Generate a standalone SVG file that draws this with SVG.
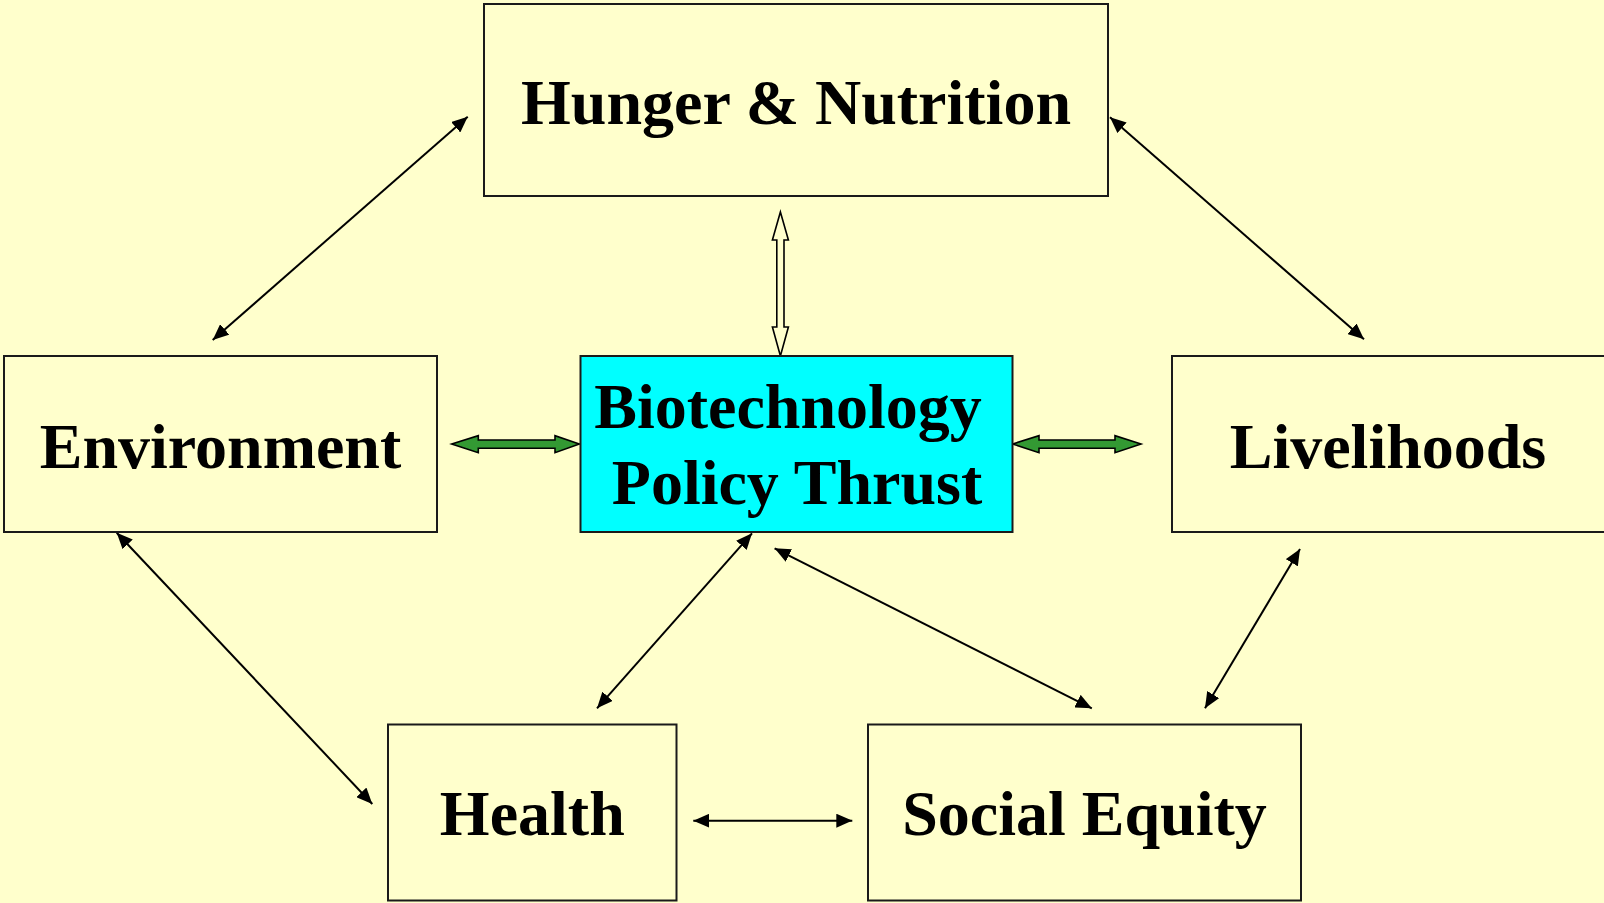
<svg xmlns="http://www.w3.org/2000/svg" width="1604" height="903" viewBox="0 0 1604 903">
  <style>
    .box { fill: #FFFFCC; stroke: #1a1a1a; stroke-width: 2; }
    .core { fill: #00FFFF; stroke: #1a1a1a; stroke-width: 2; }
    .label { font-family: "Liberation Serif", "Times New Roman", serif; font-weight: bold; font-size: 64px; fill: #000; text-anchor: middle; }
    .link { stroke: #000; stroke-width: 2; fill: none; marker-start: url(#tip); marker-end: url(#tip); }
    .fat { fill: #339933; stroke: #000; stroke-width: 1.6; stroke-linejoin: miter; }
    .hollow { fill: #FFFFCC; stroke: #000; stroke-width: 1.6; stroke-linejoin: miter; }
  </style>
  <defs>
    <marker id="tip" markerUnits="userSpaceOnUse" viewBox="0 0 16 14" refX="16" refY="7" markerWidth="16" markerHeight="14" orient="auto-start-reverse">
      <path d="M0,0 L16,7 L0,14 z" fill="#000"/>
    </marker>
  </defs>

  <rect width="1604" height="903" fill="#FFFFCC"/>

  <!-- connectors -->
  <g id="connectors">
    <line class="link" x1="212.7" y1="340" x2="467.7" y2="116.7"/>
    <line class="link" x1="1110" y1="117.3" x2="1364" y2="339.3"/>
    <line class="link" x1="116.7" y1="532.7" x2="372.3" y2="804"/>
    <line class="link" x1="752" y1="533.3" x2="597" y2="708.3"/>
    <line class="link" x1="774.6" y1="548.3" x2="1091.8" y2="708.3"/>
    <line class="link" x1="1300" y1="549" x2="1205" y2="708.3"/>
    <line class="link" x1="693.3" y1="820.7" x2="852.3" y2="820.7"/>
    <!-- green block arrows on either side of the core -->
    <path class="fat" d="M451.7,444 L478.3,435.7 L478.3,440 L555,440 L555,435.7 L579.3,444 L555,452.7 L555,448.3 L478.3,448.3 L478.3,452.7 z"/>
    <path class="fat" d="M1012.6,444 L1039,435.7 L1039,440 L1115,440 L1115,435.7 L1141,444 L1115,452.7 L1115,448.3 L1039,448.3 L1039,452.7 z"/>
    <!-- hollow vertical block arrow -->
    <path class="hollow" d="M780.4,212 L788.4,240 L784,240 L784,327 L788.4,327 L780.4,356 L772.4,327 L776.8,327 L776.8,240 L772.4,240 z"/>
  </g>

  <g id="hunger">
    <rect class="box" x="484" y="4" width="624" height="192"/>
    <text class="label" x="796" y="124">Hunger &amp; Nutrition</text>
  </g>
  <g id="environment">
    <rect class="box" x="4" y="356" width="433" height="176"/>
    <text class="label" x="220.5" y="467.7">Environment</text>
  </g>
  <g id="biotech">
    <rect class="core" x="580.5" y="356" width="432" height="176"/>
    <text class="label" x="788" y="427.7">Biotechnology</text>
    <text class="label" x="797" y="504.3">Policy Thrust</text>
  </g>
  <g id="livelihoods">
    <rect class="box" x="1172" y="356" width="434" height="176"/>
    <text class="label" x="1388" y="467.7">Livelihoods</text>
  </g>
  <g id="health">
    <rect class="box" x="388" y="724.5" width="288.5" height="176"/>
    <text class="label" x="532.3" y="835">Health</text>
  </g>
  <g id="equity">
    <rect class="box" x="868" y="724.5" width="433" height="176"/>
    <text class="label" x="1084.5" y="835">Social Equity</text>
  </g>
</svg>
